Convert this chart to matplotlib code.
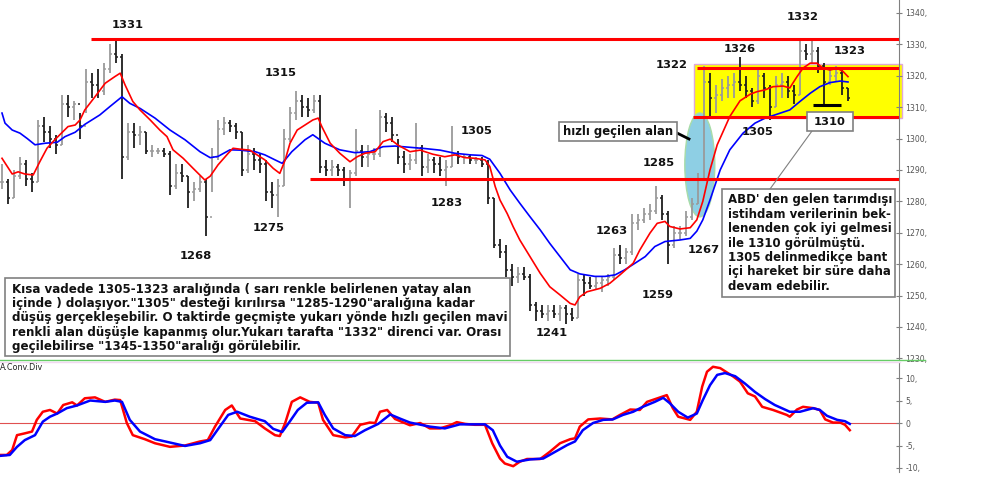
import numpy as np
import matplotlib
matplotlib.use('Agg')
import matplotlib.pyplot as plt
from matplotlib.patches import Rectangle, Ellipse
from matplotlib.lines import Line2D

# price bars (one bar per session)
highs = [1292, 1287, 1290, 1294, 1293, 1289, 1306, 1307, 1304, 1301,
         1314, 1314, 1312, 1308, 1322, 1321, 1322, 1324, 1330, 1332,
         1327, 1305, 1305, 1304, 1302, 1298, 1297, 1297, 1296, 1292,
         1292, 1288, 1286, 1288, 1287, 1297, 1306, 1307, 1306, 1305,
         1302, 1298, 1297, 1295, 1293, 1286, 1287, 1303, 1310, 1315,
         1314, 1313, 1314, 1314, 1293, 1293, 1292, 1291, 1290, 1303,
         1298, 1298, 1297, 1309, 1308, 1307, 1300, 1296, 1295, 1305,
         1298, 1295, 1294, 1294, 1293, 1304, 1296, 1295, 1295, 1294,
         1294, 1293, 1281, 1268, 1266, 1260, 1259, 1259, 1257, 1248,
         1247, 1247, 1247, 1247, 1247, 1246, 1257, 1257, 1256, 1256,
         1256, 1257, 1265, 1266, 1265, 1276, 1276, 1278, 1279, 1285,
         1282, 1277, 1272, 1272, 1277, 1281, 1289, 1323, 1321, 1317,
         1319, 1320, 1321, 1326, 1320, 1316, 1322, 1321, 1317, 1320,
         1321, 1320, 1317, 1332, 1330, 1332, 1329, 1324, 1322, 1323,
         1322, 1316]
lows = [1284, 1279, 1281, 1287, 1285, 1283, 1286, 1299, 1297, 1295,
        1298, 1307, 1306, 1300, 1308, 1313, 1313, 1314, 1321, 1324,
        1287, 1293, 1297, 1298, 1295, 1294, 1295, 1294, 1282, 1284,
        1286, 1278, 1280, 1283, 1269, 1283, 1293, 1301, 1302, 1300,
        1288, 1289, 1290, 1289, 1280, 1278, 1275, 1285, 1299, 1306,
        1307, 1307, 1308, 1289, 1288, 1288, 1288, 1285, 1278, 1288,
        1291, 1291, 1293, 1294, 1302, 1299, 1292, 1289, 1290, 1292,
        1288, 1289, 1289, 1288, 1285, 1291, 1292, 1292, 1292, 1292,
        1291, 1279, 1265, 1262, 1256, 1253, 1254, 1255, 1245, 1242,
        1243, 1242, 1243, 1242, 1241, 1242, 1243, 1250, 1252, 1252,
        1251, 1253, 1255, 1260, 1260, 1263, 1271, 1273, 1274, 1276,
        1274, 1260, 1265, 1268, 1269, 1274, 1279, 1287, 1307, 1308,
        1312, 1313, 1313, 1315, 1313, 1310, 1311, 1313, 1306, 1310,
        1313, 1313, 1311, 1314, 1325, 1324, 1321, 1311, 1317, 1318,
        1314, 1312]
closes = [1286, 1281, 1288, 1292, 1287, 1286, 1304, 1302, 1300, 1298,
          1311, 1310, 1311, 1304, 1318, 1317, 1315, 1322, 1327, 1326,
          1294, 1302, 1301, 1302, 1296, 1296, 1296, 1295, 1285, 1289,
          1288, 1283, 1284, 1286, 1275, 1294, 1303, 1305, 1304, 1302,
          1290, 1295, 1293, 1292, 1283, 1282, 1285, 1300, 1308, 1312,
          1310, 1309, 1312, 1291, 1290, 1291, 1290, 1287, 1289, 1296,
          1294, 1295, 1295, 1307, 1305, 1301, 1294, 1292, 1293, 1297,
          1291, 1293, 1292, 1290, 1291, 1295, 1294, 1294, 1293, 1293,
          1292, 1281, 1266, 1264, 1258, 1256, 1257, 1256, 1247, 1245,
          1244, 1245, 1244, 1246, 1244, 1243, 1255, 1254, 1253, 1254,
          1255, 1256, 1263, 1262, 1264, 1273, 1274, 1276, 1277, 1281,
          1276, 1266, 1270, 1270, 1275, 1279, 1287, 1318, 1313, 1314,
          1316, 1317, 1318, 1317, 1315, 1312, 1320, 1316, 1310, 1317,
          1318, 1315, 1314, 1328, 1327, 1328, 1323, 1318, 1320, 1321,
          1316, 1313]

# moving averages (bar position, value)
fast_ma_t = [0, 1.7, 2.7, 3.8, 5.2, 6.3, 7.5, 8.8, 11, 12.2, 13, 13.8, 15.5, 17.2, 18.8,
             19.7, 20.5, 21.8, 23, 24.7, 26.3, 27.5, 28.5, 30.2, 31.8, 33.8, 34.7, 36,
             37.7, 38.5, 39.7, 41.3, 42.5, 43.8, 45.2, 46.3, 47.2, 48, 49.2, 50.5, 51.8,
             52.7, 53.3, 54.7, 56.3, 58, 59.2, 60.5, 62.2, 63.5, 64.7, 66, 68, 69.7, 71.8,
             73.8, 75.5, 77.2, 78.8, 80.5, 81.3, 82.2, 83, 84.2, 85.2, 86.3, 88, 89.7,
             91.3, 93, 94.7, 95.5, 96.3, 97.5, 99.7, 101.3, 103, 105.2, 106.3, 108, 109.2,
             110.5, 111.3, 113, 114.7, 115.8, 116.8, 118, 119.2, 121.3, 123, 124.7, 125.8,
             127.2, 128.5, 130.2, 131.3, 132.5, 133.5, 134.7, 135.8, 136.8, 138, 139.2,
             140.2, 141]
fast_ma_v = [1293.7, 1288.7, 1289.4, 1288.7, 1288.4, 1292.6, 1296.9, 1299.6, 1303.8, 1304.3,
             1305.9, 1309.1, 1313.3, 1317.6, 1319.7, 1320.8, 1317.1, 1311.8, 1309.1, 1305.9,
             1302.7, 1300.6, 1296.4, 1293.7, 1290.6, 1286.8, 1288.0, 1291.6, 1295.3, 1296.9,
             1296.6, 1296.3, 1294.8, 1293.2, 1290.5, 1288.9, 1293.2, 1298.5, 1302.7, 1304.3,
             1305.9, 1306.5, 1303.8, 1298.5, 1295.3, 1292.6, 1294.2, 1295.3, 1295.8, 1299.0,
             1299.8, 1297.9, 1295.8, 1296.3, 1295.0, 1294.2, 1294.8, 1293.9, 1293.7, 1293.2,
             1291.1, 1284.7, 1280.4, 1276.1, 1271.9, 1267.7, 1262.4, 1257.1, 1252.8, 1250.2,
             1247.5, 1247.0, 1249.6, 1251.2, 1252.3, 1253.9, 1256.6, 1260.3, 1264.5, 1269.9,
             1273.0, 1273.6, 1272.0, 1271.2, 1271.6, 1274.1, 1280.0, 1290.0, 1298.0, 1307.0,
             1312.0, 1314.1, 1314.9, 1315.5, 1316.5, 1316.7, 1316.1, 1319.7, 1322.4, 1324.0,
             1324.0, 1322.4, 1321.8, 1322.4, 1321.3, 1319.7]
slow_ma_t = [0, 0.5, 1.7, 3, 4.2, 5.5, 7.2, 9.2, 10.5, 12.2, 13.8, 16.3, 18, 20, 21.3, 23,
             25.5, 28, 30.5, 33, 34.7, 36, 38, 39.7, 42.2, 43.8, 45.5, 46.7, 48.3, 50.5,
             51.8, 53.8, 56.3, 58.8, 61.3, 63.5, 65.5, 68, 70.5, 73, 75.5, 78, 80, 81.3,
             83, 84.7, 86.3, 88, 89.7, 91.3, 93, 94.7, 96.3, 98.8, 100.5, 102.2, 103.8,
             105.5, 107.2, 108.8, 110.5, 113, 114.7, 115.8, 116.8, 118, 119.7, 121.3,
             123.5, 125.5, 127.2, 128.8, 131.3, 133, 134.7, 136.3, 138, 139.7, 141]
slow_ma_v = [1308.1, 1304.9, 1302.7, 1301.7, 1300.0, 1298.0, 1298.5, 1298.8, 1300.6, 1302.0,
             1304.5, 1307.5, 1310.2, 1313.3, 1311.2, 1309.6, 1306.5, 1302.7, 1299.6, 1295.8,
             1293.9, 1294.3, 1296.4, 1296.3, 1295.8, 1294.8, 1293.2, 1292.1, 1295.8, 1299.6,
             1301.2, 1298.5, 1296.4, 1295.5, 1295.8, 1297.4, 1297.6, 1297.2, 1296.8, 1296.3,
             1295.3, 1294.8, 1294.6, 1293.4, 1288.9, 1283.6, 1279.4, 1275.1, 1270.9, 1266.6,
             1262.4, 1258.2, 1256.9, 1256.1, 1256.1, 1256.6, 1258.2, 1260.3, 1262.4, 1265.6,
             1267.2, 1267.7, 1268.2, 1270.5, 1274.1, 1280.4, 1290.0, 1296.4, 1301.7, 1304.9,
             1306.5, 1307.5, 1309.1, 1311.8, 1314.4, 1316.5, 1317.8, 1318.3, 1318.0]

# MACD panel
macd_t = [-0.3, 0.8, 1.7, 2.5, 3.8, 5, 5.8, 6.8, 8, 9.2, 10.2, 11.7, 12.5, 13.8, 15.5, 17.2,
          18.8, 19.7, 20.8, 21.8, 23.8, 25.5, 28, 30.5, 33, 34.3, 35.5, 37.2, 38.3, 39.7,
          42.2, 43.8, 45.5, 46.3, 47.2, 48.3, 49.7, 51.3, 52.7, 53.5, 55.2, 57.2, 58.3,
          59.7, 61.3, 62.2, 63, 64.2, 65.5, 68, 69.7, 71.3, 73, 74.7, 75.8, 77.2, 78.8,
          80.5, 81.7, 83, 83.8, 85.2, 86.3, 87.5, 89.7, 91.3, 93, 94.7, 95.5, 96.3, 97.7,
          99.7, 101.7, 103, 104.7, 106.3, 107.5, 109.7, 110.8, 111.8, 112.7, 114.7, 115.8,
          116.7, 117.5, 118.5, 119.7, 121.8, 123, 124.3, 125.5, 126.7, 128.5, 130.8, 131.3,
          132.5, 133.5, 135.2, 136.3, 137.2, 138.5, 139.7, 140.5, 141.3]
macd_v = [-7.1, -7.1, -6.0, -2.7, -2.3, -1.9, 0.7, 2.5, 2.9, 2.1, 4.0, 4.6, 3.9, 5.5, 5.7, 4.7,
          5.2, 5.1, 0.0, -2.7, -3.6, -4.5, -5.3, -5.0, -4.1, -3.8, -0.8, 2.9, 3.9, 1.0,
          0.4, -1.2, -2.7, -2.9, 0.0, 4.7, 5.7, 4.7, 4.5, 0.7, -2.7, -3.2, -3.0,
          -0.4, 0.1, 0.0, 2.5, 2.9, 0.9, -0.5, 0.0, -1.2, -1.2, -0.5, 0.2, -0.2, -0.4,
          -0.4, -4.5, -7.9, -9.0, -9.6, -8.6, -8.0, -8.0, -6.4, -4.5, -3.6, -3.4, -0.8, 0.8,
          1.0, 0.8, 1.8, 3.0, 2.9, 4.7, 5.7, 6.2, 3.3, 1.4, 0.7, 2.5,
          8.1, 11.4, 12.5, 12.2, 10.4, 9.2, 6.6, 5.9, 3.6, 2.9, 1.8, 1.4,
          3.0, 3.6, 3.3, 2.9, 0.8, 0.1, 0.1, -0.4, -1.6]
signal_t = [-0.3, 1.3, 2.5, 3.8, 5.5, 6.8, 8, 9.2, 10.8, 12.5, 14.7, 17.2, 18.8, 20, 21.3,
            23, 25.5, 27.2, 30.5, 33, 34.7, 36.3, 37.7, 39.2, 41.3, 43.8, 45.2, 46.7, 48,
            49.3, 50.8, 52.7, 53.8, 55.2, 57.2, 58.8, 60.5, 62.7, 64.7, 66.3, 68, 71.3,
            73.8, 76.3, 80.5, 81.8, 83, 84.2, 85.8, 88, 90.2, 92.2, 94.2, 95.5, 96.8, 98.5,
            100.2, 101.8, 103.5, 105.2, 106.8, 108.8, 110.2, 111.3, 112.7, 114.3, 115.8,
            116.8, 118, 119.2, 120.5, 122.2, 123.8, 125.5, 127.2, 128.8, 131.3, 133, 135.2,
            136.3, 137.5, 139.2, 140.5, 141.3]
signal_v = [-7.3, -7.1, -5.3, -3.8, -2.7, 0.3, 1.4, 2.1, 3.3, 3.9, 5.0, 4.7, 5.0, 4.7, 0.7,
            -1.9, -3.6, -4.1, -5.1, -4.5, -3.8, -0.8, 1.8, 2.5, 1.4, 0.4, -1.3, -2.0, 0.4,
            2.9, 4.5, 4.6, 1.8, -1.2, -2.7, -2.9, -1.6, -0.2, 1.9, 1.0, 0.1, -0.8,
            -1.2, -0.3, -0.3, -1.6, -5.0, -7.5, -8.6, -8.1, -7.9, -6.4, -4.9, -4.1, -1.6, 0.0,
            0.7, 0.8, 1.8, 2.5, 3.6, 4.7, 5.6, 4.4, 2.5, 1.2, 2.1,
            5.1, 8.4, 10.7, 11.1, 10.4, 8.8, 6.9, 5.3, 4.0, 2.5, 2.5, 3.3,
            2.9, 1.6, 0.7, 0.4, -0.2]

# levels
resistance = 1331.8
support = 1287.0
band_top, band_bottom = 1322.4, 1307.0
zone_top, zone_bottom = 1323.8, 1306.6
low_1310 = 1310.7

price_ticks = [1230, 1240, 1250, 1260, 1270, 1280, 1290, 1300, 1310, 1320, 1330, 1340]
macd_ticks = [-10, -5, 0, 5, 10]

main_text = [
    'Kısa vadede 1305-1323 aralığında ( sarı renkle belirlenen yatay alan',
    'içinde ) dolaşıyor."1305" desteği kırılırsa "1285-1290"aralığına kadar',
    'düşüş gerçekleşebilir. O taktirde geçmişte yukarı yönde hızlı geçilen mavi',
    'renkli alan düşüşle kapanmış olur.Yukarı tarafta "1332" direnci var. Orası',
    'geçilebilirse "1345-1350"aralığı görülebilir.',
]
side_text = [
    "ABD' den gelen tarımdışı",
    'istihdam verilerinin bek-',
    'lenenden çok iyi gelmesi',
    'ile 1310 görülmüştü.',
    '1305 delinmedikçe bant',
    'içi hareket bir süre daha',
    'devam edebilir.',
]

W, H = 1000, 498
fig = plt.figure(figsize=(W / 100, H / 100), dpi=100)
renderer = fig.canvas.get_renderer()


def fx(x):
    return x / W


def fy(y):
    return 1 - y / H


def fit_size(text, width_px):
    t = fig.text(0, 0, text, fontsize=10, fontweight='bold')
    w = t.get_window_extent(renderer).width
    t.remove()
    return 10 * width_px / w


ax = fig.add_axes([0, fy(359), fx(899), 359 / H])
ax2 = fig.add_axes([0, fy(472), fx(899), 110 / H])

idx = np.arange(len(closes))
c = np.array(closes, dtype=float)
o = np.r_[c[0], c[:-1]]
bar_col = np.where(c < o, '#1e1e1e', '#9a9a9a')

ax.set_xlim(-1 / 3, 149.5)
ax.set_ylim(1229.8, 1344.1)

# yellow band and fast-move ellipse
ax.add_patch(Rectangle((115.3, zone_bottom), 150 - 115.3, zone_top - zone_bottom,
                       facecolor='#ffff00', edgecolor='#e0a8d8', lw=1, zorder=1, clip_on=False))
ax.add_patch(Ellipse((116.3, 1291.6), 5.0, 33.1, facecolor='#8ecfe4',
                     edgecolor='#a8dca8', lw=1, zorder=1.5))

ax.vlines(idx, lows, highs, colors=bar_col, lw=1.3, zorder=2)
ax.hlines(o, idx - 0.35, idx, colors=bar_col, lw=1.1, zorder=2)
ax.hlines(c, idx, idx + 0.35, colors=bar_col, lw=1.1, zorder=2)

ax.plot(slow_ma_t, slow_ma_v, color='#0000ff', lw=1.2, zorder=3)
ax.plot(fast_ma_t, fast_ma_v, color='#ff0000', lw=1.2, zorder=3)

ax.hlines(resistance, 14.8, 149.5, color='#ff0000', lw=2.2, zorder=4)
ax.hlines(support, 51.3, 149.5, color='#ff0000', lw=2.2, zorder=4)
ax.hlines(band_top, 115.8, 149.5, color='#ff0000', lw=2.2, zorder=4)
ax.hlines(band_bottom, 115.2, 149.5, color='#ff0000', lw=2.2, zorder=4)
ax.hlines(low_1310, 135.2, 139.8, color='#000000', lw=2.2, zorder=4)

for a in (ax, ax2):
    a.set_facecolor('none')
    for s in ('left', 'top', 'bottom'):
        a.spines[s].set_visible(False)
    a.spines['right'].set_color('#808080')
    a.yaxis.tick_right()
    a.set_xticks([])
    a.tick_params(axis='y', direction='inout', length=5, width=0.8, colors='#808080',
                  labelcolor='#555555', labelsize=5.6, pad=2)

ax.set_yticks(price_ticks)
ax.set_yticklabels([f'{v},' for v in price_ticks])

ax2.set_xlim(-1 / 3, 149.5)
ax2.set_ylim(-10.89, 13.56)
ax2.axhline(0, color='#e05050', lw=0.8, zorder=1)
ax2.plot(signal_t, signal_v, color='#0000ff', lw=1.8, zorder=3)
ax2.plot(macd_t, macd_v, color='#ff0000', lw=1.8, zorder=2)
ax2.set_yticks(macd_ticks)
ax2.set_yticklabels([f'{v},' if v != 0 else '0' for v in macd_ticks])

fig.add_artist(Line2D([0, fx(925)], [fy(359.5)] * 2, color='#66cc66', lw=1))
fig.add_artist(Line2D([0, fx(900)], [fy(361.5)] * 2, color='#f2d8f2', lw=1))
fig.text(fx(0), fy(367), 'A.Conv.Div', fontsize=5.8, color='#222222', va='center', ha='left')

# level labels
labels = [('1331', 128, 25), ('1315', 281, 73), ('1268', 196, 256), ('1275', 269, 228),
          ('1305', 477, 131), ('1283', 447, 203), ('1285', 659, 163), ('1263', 612, 231),
          ('1241', 552, 333), ('1259', 658, 295), ('1267', 704, 250), ('1322', 672, 65),
          ('1326', 740, 49), ('1332', 803, 17), ('1323', 850, 51), ('1305', 758, 132)]
lab_size = fit_size('1331', 32)
for t, x, y in labels:
    fig.text(fx(x), fy(y), t, fontsize=lab_size, fontweight='bold', color='#111111',
             ha='center', va='center')


def box(x0, y0, x1, y1, ec='#808080', lw=1.2):
    fig.add_artist(Rectangle((fx(x0), fy(y1)), fx(x1 - x0), (y1 - y0) / H,
                             facecolor='white', edgecolor=ec, lw=lw, zorder=5))


# 1310 callout
box(807, 112, 853, 131)
fig.text(fx(830), fy(122), '1310', fontsize=lab_size, fontweight='bold', color='#111111',
         ha='center', va='center', zorder=6)
fig.add_artist(Line2D([fx(812), fx(770)], [fy(131), fy(189)], color='#808080', lw=0.8))

# fast-move callout
box(559, 122, 677, 141)
fig.text(fx(618), fy(131.5), 'hızlı geçilen alan', fontsize=fit_size('hızlı geçilen alan', 110),
         fontweight='bold', color='#111111', ha='center', va='center', zorder=6)
fig.add_artist(Line2D([fx(677), fx(689)], [fy(133), fy(139)], color='#000000', lw=2))

# comment boxes
box(722, 189, 895, 297)
side_size = fit_size(side_text[2], 163)
for k, line in enumerate(side_text):
    fig.text(fx(728), fy(200 + 14.4 * k), line, fontsize=side_size, fontweight='bold',
             color='#111111', ha='left', va='center', zorder=6)

box(5, 278, 510, 356)
main_size = fit_size(main_text[2], 493)
for k, line in enumerate(main_text):
    fig.text(fx(12), fy(289.5 + 14.2 * k), line, fontsize=main_size, fontweight='bold',
             color='#111111', ha='left', va='center', zorder=6)

fig.savefig('out.png', dpi=100)
